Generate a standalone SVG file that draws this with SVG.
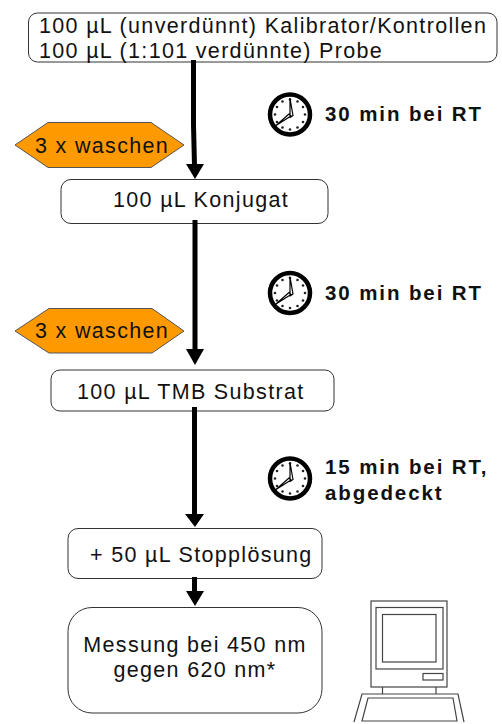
<svg xmlns="http://www.w3.org/2000/svg" width="502" height="724" viewBox="0 0 502 724">
<style>
text{font-family:"Liberation Sans",Arial,sans-serif;fill:#111}
.t{font-size:21.5px;letter-spacing:1.32px}
.b{font-size:20.5px;font-weight:bold;letter-spacing:1.9px}
.box{fill:#fff;stroke:#333;stroke-width:1}
.hex{fill:#ff9900;stroke:#555;stroke-width:1}
.con{stroke:#000;stroke-width:5;fill:none}
.head{fill:#000}
.pc{fill:none;stroke:#444;stroke-width:1.2}
</style>
<defs>
<g id="clock">
<circle r="20" fill="#fff" stroke="#000" stroke-width="4.5"/>
<g fill="#222"><circle cx="0" cy="-15" r="1.3"/><circle cx="7.5" cy="-13" r="1.3"/><circle cx="13" cy="-7.5" r="1.3"/><circle cx="15" cy="0" r="1.3"/><circle cx="13" cy="7.500" r="1.3"/><circle cx="7.5" cy="13" r="1.3"/><circle cx="0" cy="15" r="1.3"/><circle cx="-7.5" cy="13" r="1.3"/><circle cx="-13" cy="7.5" r="1.3"/><circle cx="-15" cy="0" r="1.3"/><circle cx="-13" cy="-7.5" r="1.3"/><circle cx="-7.5" cy="-13" r="1.3"/></g>
<path d="M0-16 L3 1 L0 3Z M1 1.5 L-14 11 L-1 -0.5Z" fill="#fff" stroke="#000" stroke-width="1.2" stroke-linejoin="round"/>
</g>
</defs>
<g id="node1"><rect class="box" x="28.500" y="13" width="468.500" height="49" rx="9"/><text class="t" x="39" y="33">100 µL (unverdünnt) Kalibrator/Kontrollen</text><text class="t" x="39" y="58">100 µL (1:101 verdünnte) Probe</text></g>
<g id="wash1"><path class="hex" d="M15 145L48 122.500H151L184 145L151 167.500H48Z"/><text class="t" x="35" y="153">3 x waschen</text></g>
<g id="node2"><rect class="box" x="61" y="179.500" width="267" height="44" rx="10"/><text class="t" x="113" y="207">100 µL Konjugat</text></g>
<g id="wash2"><path class="hex" d="M15 331L49 308.500H152L184 331L152 353H49Z"/><text class="t" x="35" y="338">3 x waschen</text></g>
<g id="node3"><rect class="box" x="51" y="370" width="283" height="41" rx="9"/><text class="t" x="77" y="399">100 µL TMB Substrat</text></g>
<g id="node4"><rect class="box" x="68" y="528.500" width="254" height="50" rx="10"/><text class="t" x="90" y="562">+ 50 µL Stopplösung</text></g>
<g id="node5"><rect class="box" x="68" y="607.500" width="254" height="105.500" rx="24"/><text class="t" x="195" y="652" text-anchor="middle">Messung bei 450 nm</text><text class="t" x="195" y="677" text-anchor="middle">gegen 620 nm*</text></g>
<g id="connectors">
<path class="con" d="M193.500 60V125L194.500 166"/><path class="head" d="M186 164H204L195 179Z"/>
<path class="con" d="M195 220V351"/><path class="head" d="M186 349H204L195 365Z"/>
<path class="con" d="M194.500 407V516"/><path class="head" d="M185 514H204L195 527Z"/>
<path class="con" d="M194.500 577V592"/><path class="head" d="M186 591H204L195 606Z"/>
</g>
<g id="clock1"><use href="#clock" x="290" y="114.500"/><text class="b" x="325" y="121">30 min bei RT</text></g>
<g id="clock2"><use href="#clock" x="290" y="293"/><text class="b" x="325" y="300">30 min bei RT</text></g>
<g id="clock3"><use href="#clock" x="290" y="478.500"/><text class="b" x="325" y="474">15 min bei RT,</text><text class="b" x="325" y="500">abgedeckt</text></g>
<g id="computer" class="pc">
<rect x="371" y="601" width="76" height="86"/>
<rect x="376" y="607.500" width="67" height="61.500"/>
<rect x="382.500" y="614.500" width="53.500" height="47.500"/>
<rect x="423" y="673.500" width="20" height="6.500"/>
<path d="M382.500 687V694M436 687V694"/>
<path d="M354 722L362 694H458L464 722"/>
<path d="M368 698H453L457 721H362Z"/>
</g>
</svg>
